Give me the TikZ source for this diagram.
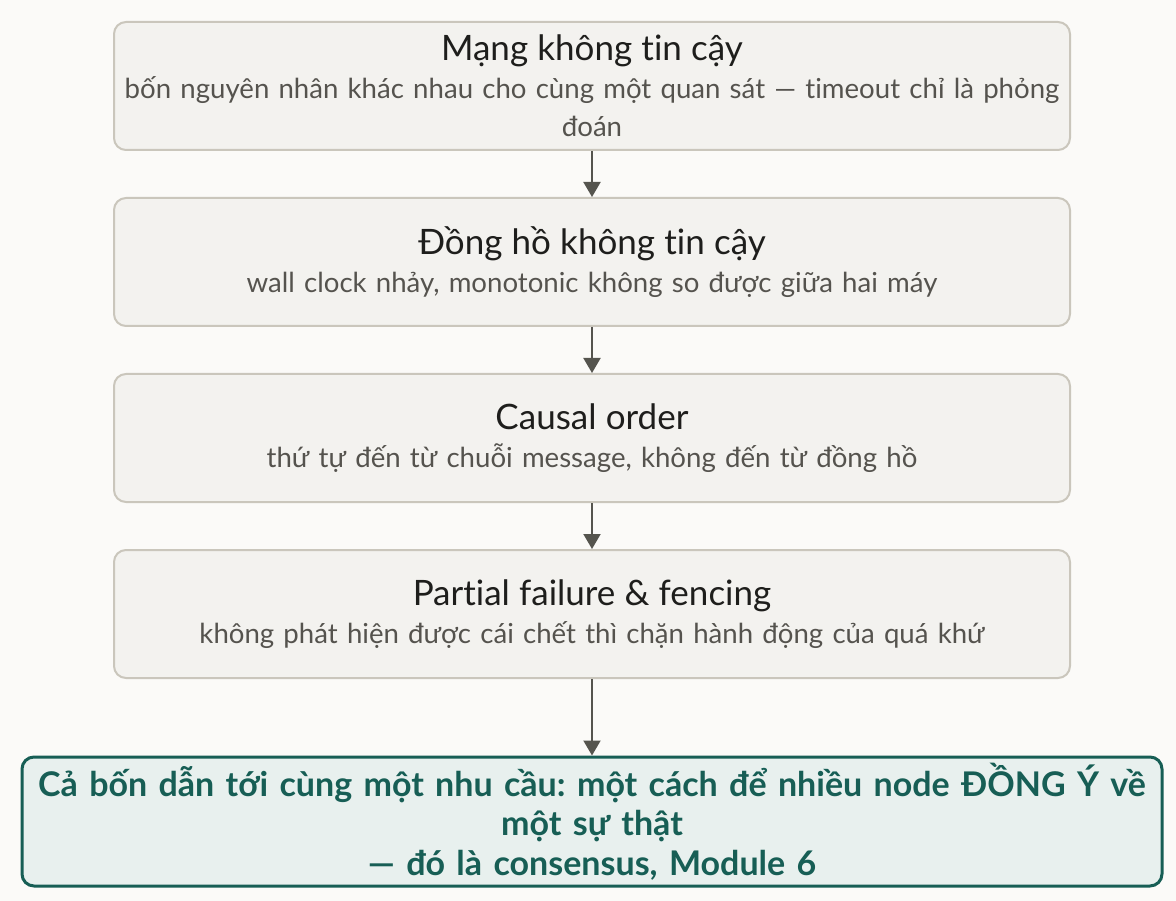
\documentclass[tikz,border=0pt]{standalone}
\usepackage{fontspec}
\setmainfont{Lato}[Ligatures=NoCommon]
\usetikzlibrary{arrows.meta, positioning}
\definecolor{bgc}{HTML}{FBFAF8}
\definecolor{boxfill}{HTML}{F3F2EF}
\definecolor{boxline}{HTML}{CAC6BC}
\definecolor{titlec}{HTML}{1E1E1C}
\definecolor{subc}{HTML}{55534E}
\definecolor{arrowc}{HTML}{55544E}
\definecolor{teal}{HTML}{175E55}
\definecolor{goalfill}{HTML}{E8F0EE}
\newcommand{\ttl}[1]{{\fontsize{35}{39}\selectfont\color{titlec}#1\par}}
\newcommand{\sub}[1]{{\fontsize{27.6}{38}\selectfont\color{subc}#1\par}}

\begin{document}
\frenchspacing
\begin{tikzpicture}[x=1pt,y=-1pt,node distance=176pt,on grid,
    box/.style={draw=boxline, line width=2pt, fill=boxfill, rounded corners=12pt,
      minimum width=956pt, minimum height=128pt, text width=950pt, align=center,
      inner sep=0pt, font=\fontsize{27.6}{38}\selectfont},
    goal/.style={draw=teal, line width=3pt, fill=goalfill, rounded corners=12pt,
      minimum width=1140pt, minimum height=129pt, text width=1130pt, align=center,
      inner sep=0pt, text=teal, font=\bfseries\fontsize{34}{39.5}\selectfont},
    link/.style={-{Triangle[width=17pt,length=15pt]}, draw=arrowc, line width=2pt}]
  \fill[bgc] (0,0) rectangle (1176,901);
  \useasboundingbox (0,0) rectangle (1176,901);
  \node[box] (m1) at (592,86) {\ttl{Mạng không tin cậy}
    \sub{bốn nguyên nhân khác nhau cho cùng một quan sát — timeout chỉ là phỏng\\đoán}};
  \node[box] (m2) [below=of m1] {\ttl{Đồng hồ không tin cậy}
    \sub{wall clock nhảy, monotonic không so được giữa hai máy}};
  \node[box] (m3) [below=of m2] {\ttl{Causal order}
    \sub{thứ tự đến từ chuỗi message, không đến từ đồng hồ}};
  \node[box] (m4) [below=of m3] {\ttl{Partial failure \& fencing}
    \sub{không phát hiện được cái chết thì chặn hành động của quá khứ}};
  \node[goal] (g) [below=207.5pt of m4] {Cả bốn dẫn tới cùng một nhu cầu: một cách để nhiều node ĐỒNG Ý về\\
    một sự thật\\— đó là consensus, Module 6};
  \draw[link] (m1) -- (m2);
  \draw[link] (m2) -- (m3);
  \draw[link] (m3) -- (m4);
  \draw[link] (m4) -- (g);
\end{tikzpicture}
\end{document}
